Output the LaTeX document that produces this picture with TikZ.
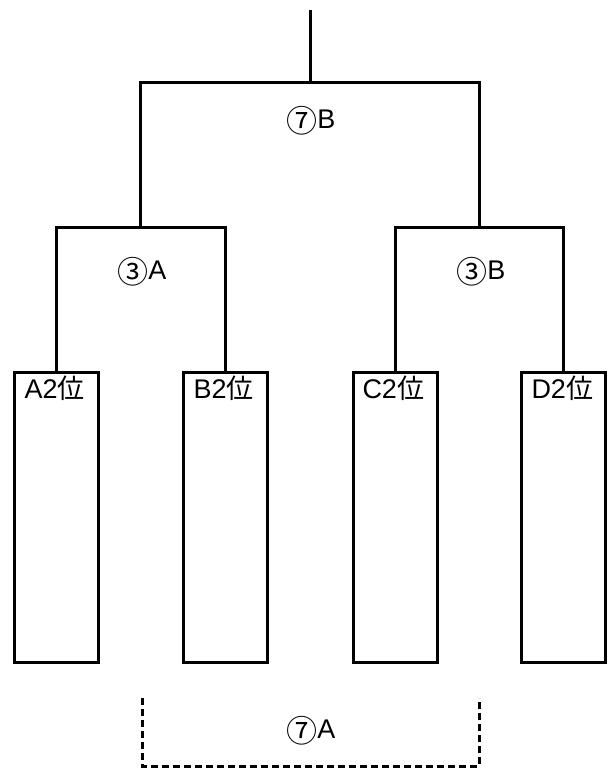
\documentclass[tikz,border=0pt]{standalone}
\usepackage{fontspec}
\setmainfont{Liberation Sans}
\newfontfamily\cjk{Noto Sans CJK JP}
\usepackage{tikz}

\newcommand{\rank}[1]{#1{\cjk 位}}
\newcommand{\circnum}[1]{\raisebox{-4pt}{\fontsize{31}{36}\selectfont\cjk #1}}

\begin{document}
\begin{tikzpicture}[x=1pt, y=-1pt, line width=3pt,
    slot/.style={rectangle, draw, minimum width=84pt, minimum height=290pt, inner sep=0pt},
    tag/.style={font=\fontsize{27}{32}\selectfont, inner sep=0pt}]
    \useasboundingbox (0, 0) rectangle (609, 769);

    \node (a2) at (56, 517) [slot] {};
    \node (b2) at (225.5, 517) [slot] {};
    \node (c2) at (395, 517) [slot] {};
    \node (d2) at (563.5, 517) [slot] {};

    \node (ta2) at (23, 388) [tag, anchor=west] {\rank{A2}};
    \node (tb2) at (192, 388) [tag, anchor=west] {\rank{B2}};
    \node (tc2) at (361, 388) [tag, anchor=west] {\rank{C2}};
    \node (td2) at (530, 388) [tag, anchor=west] {\rank{D2}};

    \coordinate (m3a) at (140.75, 227);
    \coordinate (m3b) at (479.25, 227);
    \coordinate (m7b) at (310, 82);
    \coordinate (top) at (310, 10);

    \draw (a2.north) |- (m3a) -| (b2.north);
    \draw (c2.north) |- (m3b) -| (d2.north);
    \draw (m3a) |- (m7b) -| (m3b);
    \draw (m7b) -- (top);

    \node (l3a) at (142, 272) [tag] {\circnum{③}A};
    \node (l3b) at (481, 272) [tag] {\circnum{③}B};
    \node (l7b) at (311, 121) [tag] {\circnum{⑦}B};

    \coordinate (p1) at (142, 698);
    \coordinate (p2) at (310, 766);
    \coordinate (p3) at (479, 698);
    \draw [dash pattern=on 7pt off 4pt] (p1) |- (p2) -| (p3);
    \node (l7a) at (311, 731) [tag] {\circnum{⑦}A};
\end{tikzpicture}
\end{document}
